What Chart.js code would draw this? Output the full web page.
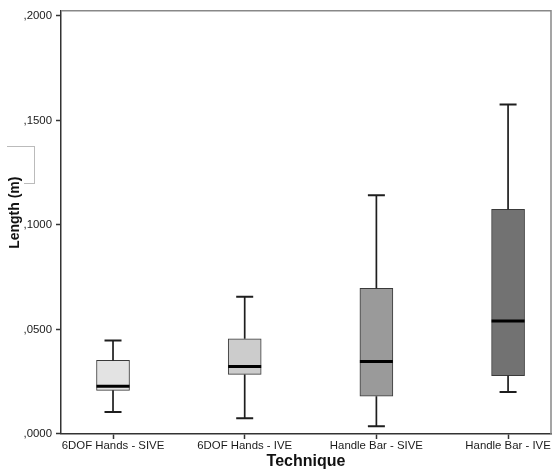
<!DOCTYPE html>
<html>
<head>
<meta charset="utf-8">
<script src="https://cdn.jsdelivr.net/npm/chart.js@4.4.1/dist/chart.umd.min.js"></script>
<style>
  html, body { margin: 0; padding: 0; background: #fff; }
  #wrap { position: relative; width: 552px; height: 471px; }
  .mark { position: absolute; border-color: #bbb; border-style: solid; border-width: 0; }
</style>
</head>
<body>
<div id="wrap">
  <canvas id="boxChart" width="552" height="471"></canvas>
  <div class="mark" style="left:7px;top:146px;width:27px;height:37px;border-top-width:1px;border-right-width:1px;"></div>
  <div class="mark" style="left:24px;top:183px;width:11px;height:0;border-top-width:1px;"></div>
</div>
<script>
const categories = ["6DOF Hands - SIVE", "6DOF Hands - IVE", "Handle Bar - SIVE", "Handle Bar - IVE"];
const whiskerLow = [0.0105, 0.0075, 0.0037, 0.0201];
const q1 = [0.0209, 0.0285, 0.0181, 0.0279];
const median = [0.0228, 0.0323, 0.0347, 0.0540];
const q3 = [0.0352, 0.0455, 0.0697, 0.1075];
const whiskerHigh = [0.0447, 0.0656, 0.1142, 0.1576];
const yTicks = [0, 0.05, 0.1, 0.15, 0.2];
const boxColors = ["#e3e3e3", "#cccccc", "#9a9a9a", "#727272"];

// whiskers, caps and median lines on top of the floating bars
const whiskerPlugin = {
  id: "whiskers",
  afterDatasetsDraw(chart) {
    const ctx = chart.ctx;
    const x = chart.scales.x, y = chart.scales.y;
    const halfBox = 16.5, halfCap = 8.5;
    ctx.save();
    ctx.lineCap = "butt";
    categories.forEach((c, i) => {
      const px = x.getPixelForValue(i + 1);
      ctx.strokeStyle = "#1e1e1e";
      ctx.lineWidth = 1.7;
      ctx.beginPath();
      ctx.moveTo(px, y.getPixelForValue(q3[i]));
      ctx.lineTo(px, y.getPixelForValue(whiskerHigh[i]));
      ctx.moveTo(px, y.getPixelForValue(q1[i]));
      ctx.lineTo(px, y.getPixelForValue(whiskerLow[i]));
      ctx.stroke();
      ctx.lineWidth = 2;
      ctx.beginPath();
      ctx.moveTo(px - halfCap, y.getPixelForValue(whiskerHigh[i]));
      ctx.lineTo(px + halfCap, y.getPixelForValue(whiskerHigh[i]));
      ctx.moveTo(px - halfCap, y.getPixelForValue(whiskerLow[i]));
      ctx.lineTo(px + halfCap, y.getPixelForValue(whiskerLow[i]));
      ctx.stroke();
      ctx.strokeStyle = "#000";
      ctx.lineWidth = 3;
      ctx.beginPath();
      ctx.moveTo(px - halfBox, y.getPixelForValue(median[i]));
      ctx.lineTo(px + halfBox, y.getPixelForValue(median[i]));
      ctx.stroke();
    });
    // grey top and right frame
    const a = chart.chartArea;
    ctx.strokeStyle = "#888";
    ctx.lineWidth = 1.5;
    ctx.beginPath();
    ctx.moveTo(a.left, a.top);
    ctx.lineTo(a.right, a.top);
    ctx.lineTo(a.right, a.bottom);
    ctx.stroke();
    ctx.restore();
  }
};

const boxData = categories.map((c, i) => ({ x: i + 1, y: [q1[i], q3[i]] }));

new Chart(document.querySelector("#boxChart"), {
  type: "bar",
  data: {
    datasets: [{
      data: boxData,
      backgroundColor: boxColors,
      borderColor: "#3a3a3a",
      borderWidth: 1,
      borderSkipped: false,
      barThickness: 33
    }]
  },
  options: {
    responsive: false,
    animation: false,
    layout: { padding: { top: 8, right: 1, left: 0, bottom: 0 } },
    plugins: { legend: { display: false }, tooltip: { enabled: false } },
    scales: {
      x: {
        type: "linear",
        offset: false,
        min: 0.605,
        max: 4.326,
        afterBuildTicks: (s) => { s.ticks = categories.map((c, i) => ({ value: i + 1 })); },
        afterFit: (s) => { s.height = 37; },
        ticks: {
          autoSkip: false,
          maxRotation: 0,
          padding: 0,
          color: "#1a1a1a",
          font: { family: "Liberation Sans", size: 11.4 },
          callback: (v) => categories[Math.round(v) - 1]
        },
        grid: { offset: false, drawOnChartArea: false, tickLength: 5, tickColor: "#333", tickWidth: 1.5 },
        border: { color: "#333", width: 1.5 },
        title: {
          display: true,
          text: "Technique",
          color: "#111",
          padding: { top: 0, bottom: 0 },
          font: { family: "Liberation Sans", size: 16, weight: "bold" }
        }
      },
      y: {
        min: 0,
        max: 0.2024,
        afterBuildTicks: (s) => { s.ticks = yTicks.map(v => ({ value: v })); },
        afterFit: (s) => { s.width = 61; },
        ticks: {
          padding: 4,
          color: "#1a1a1a",
          font: { family: "Liberation Sans", size: 11.4 },
          callback: (v) => "," + v.toFixed(4).slice(2)
        },
        grid: { drawOnChartArea: false, tickLength: 5, tickColor: "#333", tickWidth: 1.5 },
        border: { color: "#333", width: 1.5 },
        title: {
          display: true,
          text: "\u00a0\u00a0\u00a0\u00a0\u00a0Length (m)",
          color: "#111",
          padding: { top: 7, bottom: 0 },
          font: { family: "Liberation Sans", size: 14, weight: "bold" }
        }
      }
    }
  },
  plugins: [whiskerPlugin]
});
</script>
</body>
</html>
